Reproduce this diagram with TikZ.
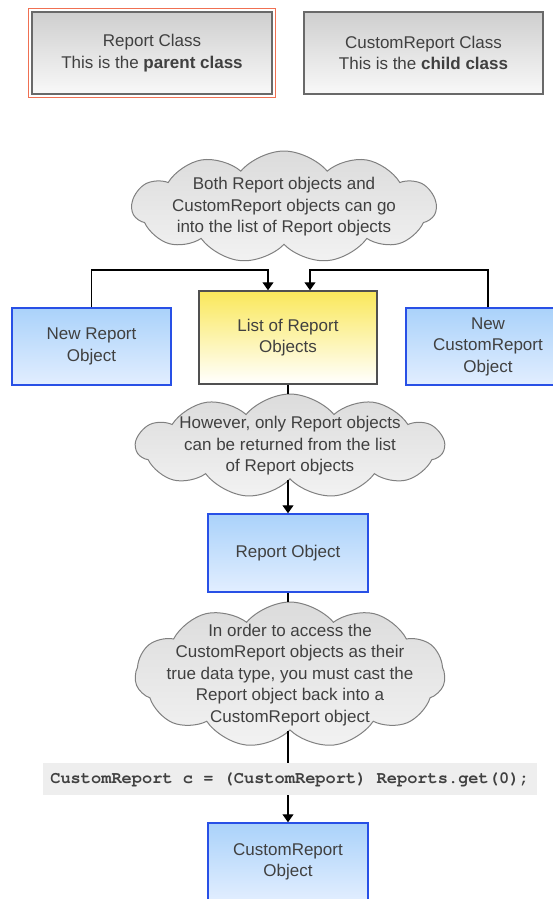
\documentclass[tikz,border=0pt]{standalone}
\usepackage[T1]{fontenc}
\usepackage{fontspec}
\setmainfont{Liberation Sans}
\usetikzlibrary{shapes.symbols,arrows.meta}

\definecolor{txtgray}{RGB}{64,64,64}
\definecolor{frameorange}{RGB}{240,112,82}
\definecolor{boxblue}{RGB}{40,80,230}
\definecolor{blutop}{RGB}{170,210,250}
\definecolor{blubot}{RGB}{226,238,255}
\definecolor{yeltop}{RGB}{250,232,90}
\definecolor{codegray}{RGB}{238,238,238}

\newcommand{\codefont}{\fontencoding{T1}\fontfamily{pcr}\bfseries\selectfont}

\tikzset{
  every node/.style={text=txtgray,font=\fontsize{17}{21.5}\selectfont,align=center,inner sep=0pt},
  classbox/.style={draw={rgb,255:red,105;green,105;blue,105},line width=1.3pt,top color=gray!38,bottom color=gray!5},
  objbox/.style={draw=boxblue,line width=1.5pt,top color=blutop,bottom color=blubot,minimum height=77pt},
  listbox/.style={draw={rgb,255:red,80;green,80;blue,80},line width=1.5pt,top color=yeltop,bottom color=white},
  bubble/.style={cloud,cloud puffs=11,cloud puff arc=100,draw=gray,line width=1pt,top color=gray!28,bottom color=gray!10},
  arr/.style={line width=1.3pt,-{Triangle[width=11pt,length=8pt]}},
  lnk/.style={line width=1.3pt}
}

\begin{document}
\begin{tikzpicture}[x=1pt,y=-1pt]
  \useasboundingbox (0,0) rectangle (553,899);
  \clip (0,0) rectangle (553,899);

  % Classes
  \node[classbox,minimum width=240pt,minimum height=82pt] (rclass) at (152,53) {Report Class\\This is the \textbf{parent class}};
  \draw[frameorange,line width=1.3pt] ([xshift=-3pt,yshift=-3pt]rclass.south west) rectangle ([xshift=3pt,yshift=3pt]rclass.north east);
  \node[classbox,minimum width=239pt,minimum height=82pt] (cclass) at (423.5,53) {CustomReport Class\\This is the \textbf{child class}};

  % Into the list
  \node[bubble,minimum width=304pt,minimum height=112pt] (bub1) at (284,207) {};
  \node (bub1txt) at (bub1.center) {Both Report objects and\\CustomReport objects can go\\into the list of Report objects};
  \node[objbox,minimum width=159pt] (newrep) at (91.5,346.5) {New Report\\Object};
  \node[listbox,minimum width=178pt,minimum height=93pt] (list) at (288,337.5) {List of Report\\Objects};
  \node[objbox,minimum width=164pt] (newcust) at (488,346.5) {New\\CustomReport\\Object};
  \coordinate (jl) at (268,270);
  \coordinate (jr) at (310,270);
  \draw[arr] (newrep.north) |- (jl) -- (jl |- list.north);
  \draw[arr] (newcust.north) |- (jr) -- (jr |- list.north);

  % Out of the list
  \node[bubble,minimum width=308pt,minimum height=104pt] (bub2) at (290,446) {};
  \node (bub2txt) at (bub2.center) {However, only Report objects\\can be returned from the list\\of Report objects};
  \node[objbox,minimum width=160pt,minimum height=78pt] (repobj) at (288,553) {Report Object};
  \draw[lnk] (list.south) -- (list.south |- bub2.north);
  \draw[arr] (repobj.north |- bub2.south) -- (repobj.north);

  % Cast
  \node[bubble,minimum width=310pt,minimum height=146pt] (bub3) at (290,675) {};
  \node (bub3txt) at (bub3.center) {In order to access the\\CustomReport objects as their\\true data type, you must cast the\\Report object back into a\\CustomReport object};
  \node[fill=codegray,minimum width=494pt,minimum height=32pt] (code) at (290,779) {\codefont CustomReport c = (CustomReport) Reports.get(0);};
  \node[objbox,minimum width=160pt,minimum height=78pt] (custobj) at (288,862) {CustomReport\\Object};
  \draw[lnk] (repobj.south) -- (repobj.south |- bub3.north);
  \draw[lnk] (code.north -| repobj.south) -- (repobj.south |- bub3.south);
  \draw[arr] (code.south -| custobj.north) -- (custobj.north);
\end{tikzpicture}
\end{document}
